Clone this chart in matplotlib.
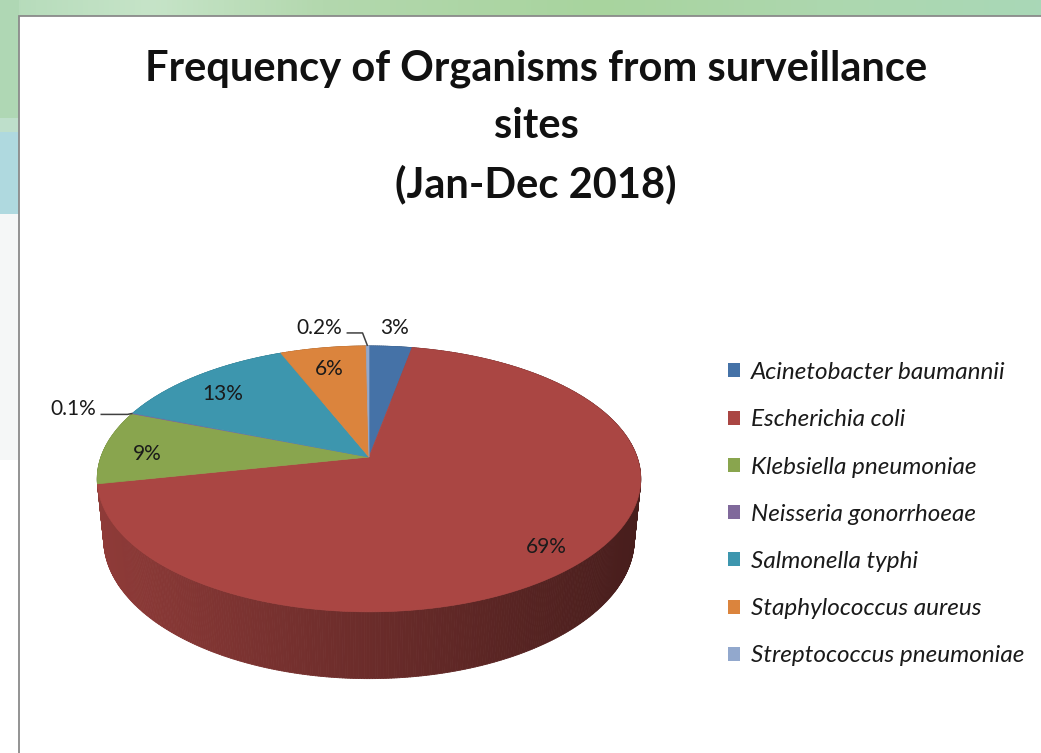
import numpy as np
import matplotlib.pyplot as plt
from matplotlib.patches import Polygon, Rectangle, Patch
from matplotlib.collections import PolyCollection
from matplotlib.colors import to_rgb

# Organism shares (percent of isolates), clockwise from 12 o'clock
organisms = ['Acinetobacter baumannii', 'Escherichia coli', 'Klebsiella pneumoniae',
             'Neisseria gonorrhoeae', 'Salmonella typhi', 'Staphylococcus aureus',
             'Streptococcus pneumoniae']
percent = [3, 69, 9, 0.1, 13, 6, 0.2]
colors = ['#4572A7', '#AA4643', '#89A54E', '#80699B', '#3D96AE', '#DB843D', '#92A8CD']
title = 'Frequency of Organisms from surveillance\nsites\n(Jan-Dec 2018)'

W, H = 1041, 753

# perspective settings for the tilted pie (pixel space)
CX, CY = 369, 457
TILT = np.radians(28.85)
DIST = 5.32
FOCAL = 1426
THICK = 0.26


def project(theta, r=1.0, z=0.0):
    x3 = r * np.sin(theta)
    y3 = r * np.cos(theta)
    up = y3 * np.sin(TILT) + z * np.cos(TILT)
    depth = DIST + y3 * np.cos(TILT) - z * np.sin(TILT)
    return CX + x3 * FOCAL / depth, CY - up * FOCAL / depth


plt.rcParams['font.family'] = ['Lato', 'DejaVu Sans']
fig = plt.figure(figsize=(W / 100, H / 100), dpi=100)
ax = fig.add_axes([0, 0, 1, 1])

# slide background behind the chart box
xs = np.linspace(0, W, 200)
stops_x = [0, 150, 320, 600, 820, W]
stops_c = [to_rgb(c) for c in ['#B5DBBA', '#C6E4C8', '#B3D8AE', '#A8D49E', '#ADD7AE', '#A9D7B7']]
band = np.stack([np.interp(xs, stops_x, [c[k] for c in stops_c]) for k in range(3)], axis=-1)
ax.imshow(band[np.newaxis, :, :], extent=(0, W, 17, 0), aspect='auto', zorder=0)
ax.add_patch(Rectangle((0, 0), 19, 118, fc='#AFD7B4', ec='none', zorder=0))
ax.add_patch(Rectangle((0, 118), 19, 14, fc='#BEDFCB', ec='none', zorder=0))
ax.add_patch(Rectangle((0, 132), 19, 82, fc='#AFD9DF', ec='none', zorder=0))
ax.add_patch(Rectangle((0, 214), 19, 246, fc='#F5F7F7', ec='none', zorder=0))

# chart area
ax.add_patch(Rectangle((19, 16), 1100, 800, fc='white', ec='#8a8a8a', lw=1.3, zorder=1))

fracs = np.array(percent) / sum(percent)
edges = np.concatenate([[0], np.cumsum(fracs)]) * 2 * np.pi

# side wall, shaded light-to-dark from left to right
quads, qcols, qkey = [], [], []
for i, c in enumerate(colors):
    th = np.linspace(edges[i], edges[i + 1], max(2, int(np.degrees(edges[i + 1] - edges[i])) * 2 + 2))
    base = np.array(to_rgb(c))
    for a, b in zip(th[:-1], th[1:]):
        pts = [project(a), project(b), project(b, z=-THICK), project(a, z=-THICK)]
        xm = (pts[0][0] + pts[1][0]) / 2
        t = np.clip((xm - (CX - 272)) / 544, 0, 1)
        shade = 0.84 - 0.42 * t
        quads.append(pts)
        qcols.append(np.clip(base * shade, 0, 1))
        qkey.append(np.cos((a + b) / 2))
order = np.argsort(qkey)[::-1]
walls = PolyCollection([quads[k] for k in order], facecolors=[qcols[k] for k in order],
                       edgecolors=[qcols[k] for k in order], linewidths=0.6, zorder=2)
ax.add_collection(walls)

# top faces
for i, c in enumerate(colors):
    th = np.linspace(edges[i], edges[i + 1], max(2, int(np.degrees(edges[i + 1] - edges[i])) * 2 + 2))
    pts = [(CX, CY)] + [project(a) for a in th]
    ax.add_patch(Polygon(pts, closed=True, fc=c, ec=c, lw=0.5, zorder=3))

# data labels
callouts = {3: (-36, 1), 6: (-25, -13)}
for i, p in enumerate(percent):
    mid = (edges[i] + edges[i + 1]) / 2
    txt = f'{p:g}%'
    if i in callouts:
        ex, ey = project(mid)
        dx, dy = callouts[i]
        ax.plot([ex, ex - 5 if dy else ex, ex + dx + 4], [ey, ey + dy, ey + dy],
                color='#404040', lw=1.1, zorder=4, solid_capstyle='butt')
        ax.text(ex + dx, ey + dy + 1, txt, ha='right', va='baseline', fontsize=15,
                color='#1a1a1a', zorder=5)
    else:
        r = 0.84 if p >= 5 else 1.2
        lx, ly = project(mid, r=r)
        ax.text(lx, ly + (6 if p >= 5 else 0), txt, ha='center', va='center', fontsize=15,
                color='#1a1a1a', zorder=5)

ax.text(536, 127, title, ha='center', va='center', fontsize=30, fontweight='bold',
        linespacing=1.6, color='#111111', zorder=5)

handles = [Patch(facecolor=c, edgecolor='none') for c in colors]
ax.legend(handles, organisms, loc='upper left', bbox_to_anchor=(728, 362),
          bbox_transform=ax.transData, frameon=False,
          prop={'style': 'italic', 'size': 17.5}, labelcolor='#1a1a1a',
          handlelength=0.5, handleheight=0.5, handletextpad=0.45,
          labelspacing=1.08, borderpad=0, borderaxespad=0)

ax.set_xlim(0, W)
ax.set_ylim(H, 0)
ax.axis('off')
fig.savefig('out.png', dpi=100)
